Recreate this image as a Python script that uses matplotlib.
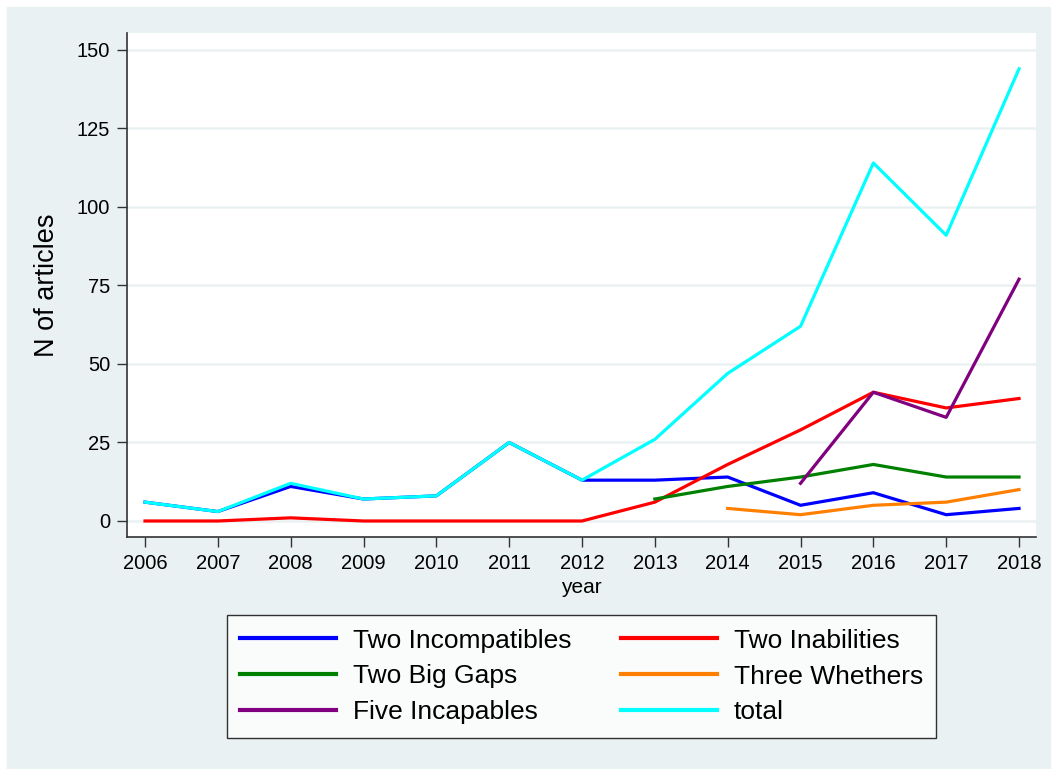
import numpy as np
import matplotlib
matplotlib.use('Agg')
import matplotlib.pyplot as plt
from matplotlib.patches import Rectangle

plt.rcParams['font.family'] = ['Liberation Sans', 'DejaVu Sans']

years = list(range(2006, 2019))
incompatibles = [6, 3, 11, 7, 8, 25, 13, 13, 14, 5, 9, 2, 4]
inabilities = [0, 0, 1, 0, 0, 0, 0, 6, 18, 29, 41, 36, 39]
big_gaps_years = list(range(2013, 2019))
big_gaps = [7, 11, 14, 18, 14, 14]
whethers_years = list(range(2014, 2019))
whethers = [4, 2, 5, 6, 10]
incapables_years = list(range(2015, 2019))
incapables = [12, 41, 33, 77]
total = [6, 3, 12, 7, 8, 25, 13, 26, 47, 62, 114, 91, 144]

yticks = [0, 25, 50, 75, 100, 125, 150]

bg = '#EAF1F3'
fig = plt.figure(figsize=(10.54, 7.69), dpi=100, facecolor='white')
fig.patches.append(Rectangle((7/1054, 0), 1 - 11/1054, 1 - 7/769,
                             transform=fig.transFigure, color=bg, zorder=-10))

ax = fig.add_axes([127/1054, 1 - 537/769, (1036 - 127)/1054, (537 - 33)/769])
ax.set_facecolor('white')

lw = 2.3
ax.plot(years, incompatibles, color='#0000FF', lw=lw, label='Two Incompatibles')
ax.plot(years, inabilities, color='#FF0000', lw=lw, label='Two Inabilities')
ax.plot(big_gaps_years, big_gaps, color='#008000', lw=lw, label='Two Big Gaps')
ax.plot(whethers_years, whethers, color='#FF8000', lw=lw, label='Three Whethers')
ax.plot(incapables_years, incapables, color='#800080', lw=lw, label='Five Incapables')
ax.plot(years, total, color='#00FFFF', lw=lw, label='total')

ax.set_xlim(2005.753, 2018.233)
ax.set_ylim(-5.1, 155.4)
ax.set_xticks(years)
ax.set_yticks(yticks)
ax.tick_params(labelsize=14.5, length=7, width=1, color='#333333', pad=5)
ax.yaxis.grid(True, color=bg, lw=1.8)
ax.set_axisbelow(True)
for s in ['top', 'right']:
    ax.spines[s].set_visible(False)
for s in ['left', 'bottom']:
    ax.spines[s].set_color('#333333')
    ax.spines[s].set_linewidth(1.2)

ax.set_xlabel('year', fontsize=15, labelpad=4)
ax.set_ylabel('N of articles', fontsize=19.5, labelpad=12)

# row-major legend order, like the original
handles, labels = ax.get_legend_handles_labels()
order = [0, 2, 4, 1, 3, 5]
leg = fig.legend([handles[i] for i in order], [labels[i] for i in order],
                 loc='center', bbox_to_anchor=(581.5/1054, 1 - 676.5/769),
                 ncol=2, fontsize=19, frameon=True, fancybox=False, edgecolor='black',
                 handlelength=3.65, handletextpad=0.65, columnspacing=1.85,
                 labelspacing=0.45, borderpad=0.5, borderaxespad=0)
leg.get_frame().set_linewidth(1.0)
for line in leg.get_lines():
    line.set_linewidth(3)

fig.savefig('out.png', dpi=100, facecolor='white')
